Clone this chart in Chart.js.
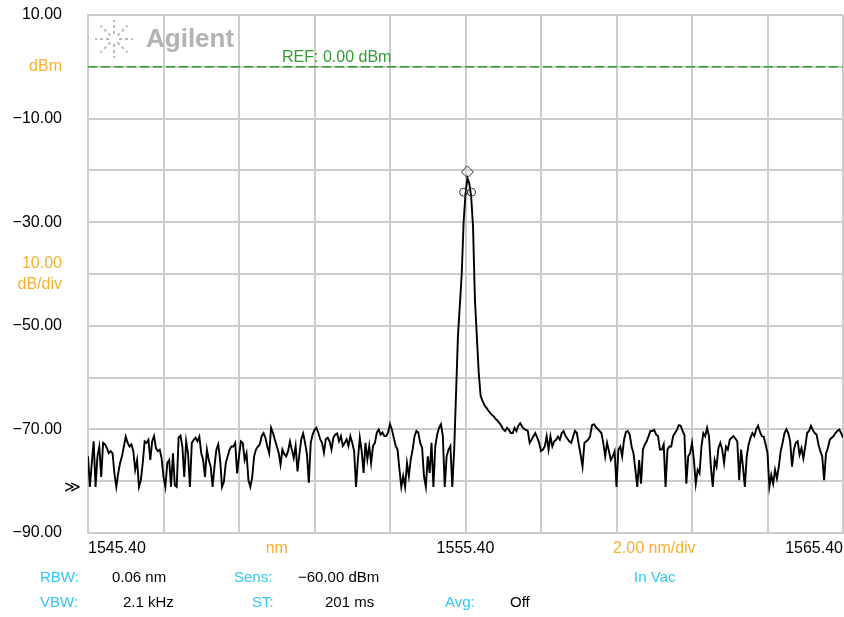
<!DOCTYPE html>
<html>
<head>
<meta charset="utf-8">
<script src="https://cdn.jsdelivr.net/npm/chart.js@4.4.1/dist/chart.umd.min.js"></script>
<style>
  html, body { margin: 0; padding: 0; background: #fff; }
  #osa { display: block; }
</style>
</head>
<body>
<canvas id="osa" width="844" height="617"></canvas>
<script>
// OSA trace, 1545.40 - 1565.40 nm, sampled every 0.05 nm
var startNm = 1545.4;
var stepNm = 0.05;
var powerDbm = [
  -75.2,-81.1,-76.5,-72.3,-81.1,-75.2,-73.3,-79.2,-72.6,-72.9,-73.6,-74.6,-74.2,-74.6,-78.5,-81.1,-78.5,-76.5,-75.2,-73.3,
  -71.4,-72.6,-73.3,-72.9,-74.2,-77.8,-75.9,-81.1,-79.8,-76.5,-72.3,-72.6,-72.0,-75.9,-72.3,-71.3,-73.6,-74.2,-73.9,-75.6,
  -79.2,-81.1,-76.5,-75.9,-81.1,-74.6,-80.8,-81.1,-71.6,-71.2,-73.3,-79.2,-72.3,-74.6,-81.1,-72.6,-72.0,-71.6,-72.3,-71.4,
  -74.6,-75.9,-79.2,-73.9,-75.9,-77.2,-81.1,-77.2,-73.9,-72.9,-75.9,-81.1,-80.1,-76.5,-75.2,-73.9,-73.3,-73.3,-72.6,-78.5,
  -75.2,-72.3,-72.6,-75.9,-74.6,-79.8,-81.1,-79.2,-75.2,-73.9,-73.3,-72.9,-71.3,-70.7,-71.6,-73.3,-74.6,-69.7,-70.7,-72.0,
  -73.2,-74.5,-76.8,-73.9,-74.8,-75.2,-74.2,-72.3,-73.9,-75.5,-73.2,-78.1,-74.8,-71.9,-70.8,-72.6,-74.8,-80.3,-72.6,-71.0,
  -70.1,-69.7,-70.6,-71.9,-72.6,-74.5,-71.9,-71.6,-72.3,-73.9,-71.6,-71.0,-70.8,-72.3,-71.3,-73.2,-72.6,-71.9,-73.2,-71.3,
  -72.6,-74.2,-81.1,-75.8,-71.6,-74.2,-78.4,-72.6,-75.8,-73.2,-76.5,-73.2,-72.6,-70.6,-70.0,-71.0,-70.6,-71.3,-71.3,-70.6,
  -69.0,-70.0,-71.6,-73.2,-73.9,-77.7,-81.1,-79.0,-81.1,-76.5,-79.0,-75.8,-73.9,-71.3,-70.3,-70.6,-72.6,-73.5,-79.0,-81.1,
  -75.2,-78.4,-72.6,-81.1,-73.2,-71.0,-69.7,-69.0,-71.3,-81.1,-75.2,-73.9,-73.2,-81.1,-74.0,-63.0,-52.0,-46.0,-40.0,-30.0,
  -24.5,-21.5,-22.5,-25.0,-31.0,-45.0,-52.0,-59.0,-63.5,-64.5,-65.3,-65.8,-66.3,-66.8,-67.2,-67.5,-68.0,-68.3,-68.8,-69.3,
  -70.0,-70.3,-69.7,-70.1,-70.7,-70.7,-69.7,-70.3,-69.3,-68.8,-69.5,-69.9,-70.1,-70.3,-72.6,-72.0,-71.3,-70.7,-71.6,-72.6,
  -74.2,-73.9,-73.3,-71.3,-73.9,-71.3,-73.3,-72.3,-72.0,-71.4,-72.0,-70.7,-70.3,-71.3,-71.8,-72.3,-72.6,-71.4,-70.3,-70.7,
  -72.9,-74.9,-77.2,-72.6,-72.3,-72.0,-71.3,-69.2,-69.0,-69.5,-69.9,-70.3,-70.7,-72.6,-75.2,-72.6,-74.2,-75.9,-75.2,-74.2,
  -81.1,-73.9,-73.3,-75.2,-72.0,-70.5,-70.3,-71.0,-73.3,-74.6,-77.8,-81.1,-75.9,-80.5,-73.9,-72.9,-72.3,-71.3,-70.3,-70.3,
  -70.1,-71.0,-71.3,-73.9,-73.9,-72.9,-81.1,-73.9,-73.3,-73.3,-71.3,-70.7,-70.1,-69.2,-69.3,-70.3,-71.1,-80.5,-75.2,-74.6,
  -72.6,-75.9,-80.5,-77.8,-78.5,-73.3,-70.7,-71.3,-69.7,-71.3,-77.2,-81.1,-75.9,-77.2,-73.6,-72.6,-73.9,-76.5,-73.3,-73.9,
  -72.0,-71.6,-71.3,-71.8,-72.3,-79.8,-73.9,-77.2,-81.1,-75.2,-72.9,-71.6,-70.7,-71.3,-70.0,-69.3,-70.5,-71.3,-71.4,-72.9,
  -74.6,-81.1,-78.8,-80.5,-77.8,-79.5,-77.2,-74.2,-72.6,-70.7,-70.0,-70.7,-72.3,-77.2,-73.9,-72.6,-72.3,-74.9,-73.6,-75.6,
  -73.3,-70.7,-70.3,-69.3,-70.1,-70.7,-71.0,-72.9,-74.2,-75.2,-79.8,-74.6,-73.6,-72.0,-71.6,-71.3,-70.7,-70.3,-70.0,-70.7,
  -71.6
];

// markers
var peakNm = [1555.45];
var peakDbm = [-20.3];
var markerNm = [1555.35, 1555.56];
var markerDbm = [-24.2, -24.2];
var refLevel = 0;

// axes
var gridNm = [1545.4, 1547.4, 1549.4, 1551.4, 1553.4, 1555.4, 1557.4, 1559.4, 1561.4, 1563.4, 1565.4];
var labelNm = [1545.4, 1550.4, 1555.4, 1560.4, 1565.4];
var xTickLabels = ['1545.40', 'nm', '1555.40', '2.00 nm/div', '1565.40'];
var yTickValues = [10, 0, -10, -20, -30, -40, -50, -60, -70, -80, -90];
var yTickLabels = ['10.00', 'dBm', '\u221210.00', '', '\u221230.00', ['10.00', 'dB/div'], '\u221250.00', '', '\u221270.00', '', '\u221290.00'];
var yUnitTicks = [0, -40];
var xUnitTicks = [1550.4, 1560.4];

var ORANGE = '#f2b12e';
var CYAN = '#33c6f2';
var GREEN = '#2f9e2f';
var GRID = '#cccccc';
var FONT = 'Liberation Sans, Arial, sans-serif';

function findIdx(arr, v) {
    for (var i = 0; i < arr.length; i++) {
        if (Math.abs(arr[i] - v) < 1e-6) return i;
    }
    return -1;
}

var traceData = powerDbm.map(function (p, i) {
    return { x: startNm + i * stepNm, y: p };
});
var xTickValues = gridNm.concat(xUnitTicks).sort(function (a, b) { return a - b; });

// no extra room for tick labels, the plot box is fixed
function noPad(axis) {
    axis.paddingTop = 0;
    axis.paddingBottom = 0;
    axis.paddingLeft = 0;
    axis.paddingRight = 0;
}

var osaDecor = {
    id: 'osaDecor',
    beforeDraw: function (chart) {
        var c = chart.ctx;
        c.save();
        c.fillStyle = '#fff';
        c.fillRect(0, 0, chart.width, chart.height);
        c.restore();
    },
    afterDraw: function (chart) {
        var c = chart.ctx;
        var yRef = chart.scales.y.getPixelForValue(refLevel);
        c.save();
        // reference label
        c.fillStyle = GREEN;
        c.font = '16px ' + FONT;
        c.textBaseline = 'alphabetic';
        c.fillText('REF: 0.00 dBm', 282, yRef - 5);

        // sensitivity arrow on the left
        c.fillStyle = '#000';
        c.font = '16px ' + FONT;
        c.textBaseline = 'middle';
        c.fillText('\u226B', 64, chart.scales.y.getPixelForValue(-81.3));

        // Agilent logo
        c.strokeStyle = '#b9b9b9';
        c.lineWidth = 2;
        var cx = 114, cy = 39;
        for (var k = 0; k < 8; k++) {
            var a = k * Math.PI / 4;
            var r0 = 5, r1 = 19;
            c.setLineDash([3, 3]);
            c.beginPath();
            c.moveTo(cx + Math.cos(a) * r0, cy + Math.sin(a) * r0);
            c.lineTo(cx + Math.cos(a) * r1, cy + Math.sin(a) * r1);
            c.stroke();
        }
        c.setLineDash([]);
        c.fillStyle = '#b3b3b3';
        c.font = 'bold 26px ' + FONT;
        c.textBaseline = 'middle';
        c.fillText('Agilent', 146, 40);

        // instrument settings
        var rows = [
            [['RBW:', 40, CYAN], ['0.06 nm', 112, '#000'], ['Sens:', 234, CYAN], ['\u221260.00 dBm', 298, '#000'], ['In Vac', 634, CYAN]],
            [['VBW:', 40, CYAN], ['2.1 kHz', 123, '#000'], ['ST:', 252, CYAN], ['201 ms', 325, '#000'], ['Avg:', 445, CYAN], ['Off', 510, '#000']]
        ];
        c.font = '15px ' + FONT;
        rows.forEach(function (row, r) {
            row.forEach(function (t) {
                c.fillStyle = t[2];
                c.fillText(t[0], t[1], 578 + r * 25);
            });
        });
        c.restore();
    }
};

var osaChart = new Chart(document.getElementById('osa'), {
    type: 'line',
    data: {
        datasets: [{
            label: 'trace',
            data: traceData,
            borderColor: '#000',
            borderWidth: 1.9,
            pointRadius: 0,
            tension: 0,
            order: 1
        }, {
            label: 'ref',
            data: [{ x: gridNm[0], y: refLevel }, { x: gridNm[gridNm.length - 1], y: refLevel }],
            borderColor: GREEN,
            borderWidth: 1.5,
            borderDash: [9, 4],
            pointRadius: 0,
            order: 2
        }, {
            label: 'peak',
            data: peakNm.map(function (v, i) { return { x: v, y: peakDbm[i] }; }),
            showLine: false,
            pointStyle: 'rectRot',
            pointRadius: 6,
            pointBorderWidth: 1,
            pointBorderColor: '#333',
            pointBackgroundColor: 'rgba(0,0,0,0)',
            order: 0
        }, {
            label: 'markers',
            data: markerNm.map(function (v, i) { return { x: v, y: markerDbm[i] }; }),
            showLine: false,
            pointStyle: 'circle',
            pointRadius: 4,
            pointBorderWidth: 1,
            pointBorderColor: '#333',
            pointBackgroundColor: 'rgba(0,0,0,0)',
            order: 0
        }]
    },
    options: {
        responsive: false,
        animation: false,
        layout: { autoPadding: false, padding: { top: 15, right: 1, left: 0, bottom: 0 } },
        plugins: {
            legend: { display: false },
            tooltip: { enabled: false }
        },
        scales: {
            x: {
                type: 'linear',
                min: 1545.4,
                max: 1565.4,
                afterBuildTicks: function (axis) {
                    axis.ticks = xTickValues.map(function (v) { return { value: v }; });
                },
                afterFit: function (axis) { axis.height = 84; noPad(axis); },
                grid: {
                    drawTicks: false,
                    lineWidth: 2,
                    color: function (ctx) {
                        if (!ctx.tick) return GRID;
                        return findIdx(gridNm, ctx.tick.value) >= 0 ? GRID : 'rgba(0,0,0,0)';
                    }
                },
                border: { color: GRID, width: 2 },
                ticks: {
                    autoSkip: false,
                    maxRotation: 0,
                    align: 'inner',
                    padding: 6,
                    font: { family: FONT, size: 16 },
                    color: function (ctx) {
                        return findIdx(xUnitTicks, ctx.tick.value) >= 0 ? ORANGE : '#000';
                    },
                    callback: function (value) {
                        var i = findIdx(labelNm, value);
                        return i >= 0 ? xTickLabels[i] : '';
                    }
                }
            },
            y: {
                min: -90,
                max: 10,
                afterBuildTicks: function (axis) {
                    axis.ticks = yTickValues.map(function (v) { return { value: v }; });
                },
                afterFit: function (axis) { axis.width = 88; noPad(axis); },
                grid: { drawTicks: false, lineWidth: 2, color: GRID },
                border: { color: GRID, width: 2 },
                ticks: {
                    padding: 26,
                    font: { family: FONT, size: 16, lineHeight: 1.35 },
                    color: function (ctx) {
                        return yUnitTicks.indexOf(ctx.tick.value) >= 0 ? ORANGE : '#000';
                    },
                    callback: function (value) {
                        var i = yTickValues.indexOf(value);
                        return i >= 0 ? yTickLabels[i] : '';
                    }
                }
            }
        }
    },
    plugins: [osaDecor]
});
</script>
</body>
</html>
